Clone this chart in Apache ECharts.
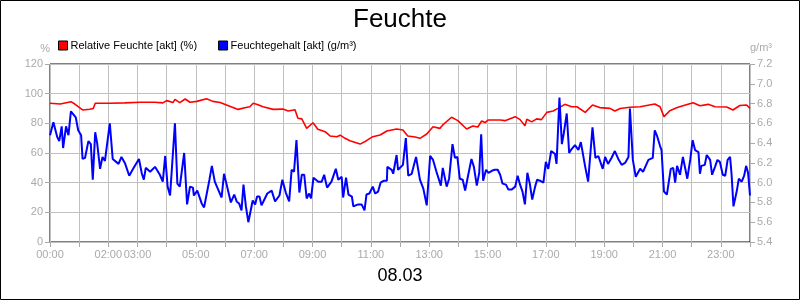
<!DOCTYPE html>
<html>
<head>
<meta charset="utf-8">
<script src="https://cdn.jsdelivr.net/npm/echarts@6/dist/echarts.min.js"></script>
<style>
  html, body { margin: 0; padding: 0; background: #fff; }
  #chart { width: 800px; height: 300px; }
</style>
</head>
<body>
<div id="chart"></div>
<script>
// x axis: minutes since midnight, labels shown only at these hours
var shownHours = [0, 2, 3, 5, 7, 9, 11, 13, 15, 17, 19, 21, 23];

// Relative Feuchte [akt] (%)
var rhTime = [0, 21, 43, 51, 67, 82, 89, 93, 123, 154, 185, 216, 232, 240, 253, 257, 267, 278, 288, 302,
  322, 335, 350, 363, 387, 401, 411, 418, 428, 438, 459, 479, 490, 504, 510, 518, 528, 541, 551, 566,
  576, 590, 597, 607, 617, 638, 651, 664, 679, 693, 713, 726, 736, 751, 761, 775, 788, 802, 808, 826,
  839, 857, 870, 880, 888, 895, 901, 926, 936, 957, 967, 977, 981, 991, 1001, 1011, 1022, 1035, 1045, 1059,
  1073, 1084, 1101, 1116, 1131, 1152, 1162, 1173, 1193, 1214, 1244, 1255, 1263, 1275, 1289, 1302, 1323, 1337, 1354, 1368,
  1392, 1405, 1419, 1433, 1440];
var rhValue = [93.5, 93, 94.6, 93, 89, 89.5, 90, 93.5, 93.5, 93.8, 94.2, 94.2, 93.8, 95.3, 94, 96.2, 94, 96.4, 94.2, 94.8,
  96.6, 94.8, 94, 92.4, 89.4, 90.5, 91.2, 93.5, 92.5, 91.2, 89.4, 89.6, 88.3, 89.2, 83.4, 83, 76.6, 80.4, 76, 74.4,
  71.5, 71, 72, 69.9, 68.3, 66, 68.3, 71, 72.1, 74.8, 76.2, 75.5, 71.5, 70.8, 69.9, 72.8, 77.7, 76.6, 78.9, 84.1,
  81.8, 76.2, 78.2, 77.5, 81.6, 80.5, 82.2, 82.2, 81.8, 84.5, 82.5, 78.4, 82.7, 81, 83, 82.5, 87.4, 88.3, 90.1, 92.8,
  91.2, 91.2, 87.4, 92.4, 90.6, 90.1, 88.3, 90, 90.8, 91.2, 93, 91.2, 84.5, 88.5, 90.5, 91.9, 93.9, 91.9, 92.8, 91.2,
  91, 89, 92, 92.4, 90.1];

// Feuchtegehalt [akt] (g/m³)
var ahTime = [0, 2, 7, 10, 15, 19, 24, 27, 33, 38, 43, 48, 53, 58, 64, 67, 72, 79, 84, 88,
  93, 97, 103, 108, 113, 123, 129, 141, 147, 154, 163, 171, 183, 189, 193, 197, 206, 216, 226, 232,
  237, 242, 247, 257, 262, 267, 276, 282, 288, 294, 296, 303, 312, 317, 328, 333, 339, 346, 353, 358,
  363, 372, 379, 384, 389, 394, 398, 403, 408, 417, 422, 426, 431, 435, 440, 447, 456, 463, 472, 478,
  485, 492, 497, 502, 507, 513, 518, 523, 528, 533, 537, 542, 552, 559, 564, 570, 579, 588, 593, 600,
  603, 609, 614, 621, 624, 634, 641, 647, 651, 657, 664, 669, 675, 680, 687, 693, 694, 703, 706, 713,
  716, 726, 732, 737, 744, 753, 761, 768, 775, 778, 782, 788, 795, 799, 804, 808, 811, 816, 821, 828,
  833, 838, 843, 849, 854, 860, 867, 872, 878, 883, 887, 891, 897, 902, 909, 915, 921, 926, 931, 938,
  943, 950, 957, 962, 967, 972, 977, 982, 987, 992, 998, 1002, 1008, 1015, 1020, 1025, 1031, 1039, 1042, 1048,
  1053, 1057, 1063, 1068, 1073, 1080, 1087, 1092, 1101, 1107, 1116, 1122, 1128, 1137, 1142, 1148, 1155, 1162, 1169, 1176,
  1183, 1190, 1193, 1199, 1205, 1214, 1220, 1231, 1234, 1240, 1244, 1249, 1255, 1258, 1263, 1269, 1272, 1277, 1282, 1286,
  1290, 1296, 1302, 1306, 1311, 1317, 1322, 1327, 1334, 1337, 1340, 1347, 1351, 1358, 1362, 1368, 1373, 1378, 1384, 1389,
  1394, 1399, 1402, 1406, 1413, 1417, 1423, 1428, 1432, 1436, 1440];
var ahValue = [6.48, 6.48, 6.61, 6.60, 6.46, 6.42, 6.57, 6.35, 6.57, 6.48, 6.72, 6.69, 6.66, 6.53, 6.48, 6.24, 6.25, 6.42, 6.39, 6.03,
  6.51, 6.40, 6.14, 6.26, 6.22, 6.60, 6.24, 6.19, 6.26, 6.20, 6.07, 6.14, 6.24, 6.09, 6.03, 6.15, 6.11, 6.16, 6.08, 6.01,
  6.27, 5.96, 5.87, 6.60, 5.99, 5.96, 6.30, 5.78, 5.96, 5.95, 5.87, 5.92, 5.79, 5.75, 6.03, 6.17, 6.01, 5.93, 5.85, 6.09,
  5.99, 5.80, 5.88, 5.81, 5.79, 5.72, 5.98, 5.76, 5.60, 5.82, 5.78, 5.86, 5.86, 5.77, 5.82, 5.89, 5.92, 5.81, 5.87, 6.03,
  5.90, 5.81, 6.13, 6.11, 6.43, 5.90, 6.08, 6.08, 5.84, 5.89, 5.84, 6.05, 6.01, 6.01, 6.08, 5.95, 6.01, 6.14, 6.03, 6.06,
  5.85, 6.05, 5.88, 5.86, 5.76, 5.78, 5.78, 5.72, 5.88, 5.89, 5.96, 5.89, 5.91, 6.00, 6.02, 6.02, 6.16, 6.13, 6.09, 6.28,
  6.13, 6.18, 6.45, 6.07, 6.09, 6.26, 6.03, 5.94, 5.77, 5.76, 6.27, 6.23, 6.11, 6.10, 5.97, 6.15, 6.14, 5.96, 6.04, 6.39,
  6.25, 6.26, 6.04, 6.03, 5.92, 6.07, 6.24, 6.16, 5.97, 6.10, 6.49, 6.02, 6.13, 6.10, 6.12, 6.13, 6.13, 6.08, 5.99, 5.98,
  5.93, 5.93, 5.96, 6.07, 5.98, 5.91, 5.78, 6.10, 5.99, 5.83, 5.96, 6.03, 6.02, 6.00, 6.21, 6.14, 6.32, 6.29, 6.19, 6.86,
  6.39, 6.50, 6.70, 6.30, 6.34, 6.38, 6.33, 6.41, 6.16, 6.01, 6.56, 6.25, 6.27, 6.14, 6.26, 6.19, 6.25, 6.32, 6.24, 6.18,
  6.20, 6.26, 6.75, 6.23, 6.06, 6.14, 6.11, 6.23, 6.21, 6.25, 6.53, 6.47, 6.37, 6.33, 5.91, 5.88, 5.89, 6.14, 6.15, 6.00,
  6.17, 6.08, 6.26, 6.25, 6.04, 6.23, 6.43, 6.33, 6.31, 6.09, 6.17, 6.18, 6.28, 6.23, 6.08, 6.16, 6.23, 6.21, 6.08, 6.07,
  6.23, 6.26, 6.09, 5.76, 5.92, 6.04, 6.01, 6.07, 6.17, 6.10, 5.87];

function pairs(t, v) {
  var out = [];
  for (var i = 0; i < t.length; i++) out.push([t[i], v[i]]);
  return out;
}

function pad(n) { return n < 10 ? "0" + n : "" + n; }

var grey = "#aaaaaa";
var gridGrey = "#c0c0c0";
var font = "Liberation Sans, Arial, sans-serif";

var chart = echarts.init(document.getElementById("chart"));
var option = {
  animation: false,
  textStyle: { fontFamily: font },
  title: [
    { text: "Feuchte", left: "center", top: 2,
      textStyle: { fontSize: 26, fontWeight: "normal", color: "#000", fontFamily: font } },
    { text: "08.03", left: "center", top: 262,
      textStyle: { fontSize: 18, fontWeight: "normal", color: "#000", fontFamily: font } }
  ],
  graphic: [
    { type: "rect", shape: { x: 0.5, y: 0.5, width: 799, height: 299 },
      style: { fill: null, stroke: "#000", lineWidth: 1 }, silent: true }
  ],
  legend: {
    left: 53, top: 35,
    icon: "rect", itemWidth: 9, itemHeight: 9, itemGap: 21,
    textStyle: { fontSize: 11, color: "#000", fontFamily: font, padding: [0, 0, 0, -2] },
    data: [
      { name: "Relative Feuchte [akt] (%)", itemStyle: { borderColor: "#000", borderWidth: 1 } },
      { name: "Feuchtegehalt [akt] (g/m³)", itemStyle: { borderColor: "#000", borderWidth: 1 } }
    ]
  },
  grid: { left: 50, right: 50, top: 64, bottom: 58, show: true, borderColor: "#000", borderWidth: 1,
    backgroundColor: "transparent" },
  xAxis: {
    type: "value", min: 0, max: 1440, interval: 60,
    axisLine: { show: false },
    axisTick: { show: true, length: 5, lineStyle: { color: grey } },
    axisLabel: {
      color: grey, fontSize: 11, fontFamily: font, margin: 7,
      formatter: function (v) {
        var h = Math.round(v / 60);
        return shownHours.indexOf(h) >= 0 ? pad(h) + ":00" : "";
      }
    },
    splitLine: { show: true, lineStyle: { color: gridGrey, width: 1 } }
  },
  yAxis: [
    {
      type: "value", min: 0, max: 120, interval: 20,
      name: "%", nameGap: 10, nameTextStyle: { color: grey, fontSize: 11, align: "right" },
      axisLine: { show: false },
      axisTick: { show: true, length: 5, lineStyle: { color: grey } },
      axisLabel: { color: grey, fontSize: 11, fontFamily: font, margin: 7 },
      splitLine: { show: true, lineStyle: { color: gridGrey, width: 1 } }
    },
    {
      type: "value", min: 5.4, max: 7.2, interval: 0.2,
      name: "g/m³", nameGap: 11, nameTextStyle: { color: grey, fontSize: 11, align: "left" },
      axisLine: { show: false },
      axisTick: { show: true, length: 5, lineStyle: { color: grey } },
      axisLabel: { color: grey, fontSize: 11, fontFamily: font, margin: 7,
        formatter: function (v) { return v.toFixed(1); } },
      splitLine: { show: false }
    }
  ],
  series: [
    {
      name: "Relative Feuchte [akt] (%)", type: "line", yAxisIndex: 0,
      showSymbol: false, color: "#ff0000",
      lineStyle: { color: "#ff0000", width: 1.6 },
      data: pairs(rhTime, rhValue)
    },
    {
      name: "Feuchtegehalt [akt] (g/m³)", type: "line", yAxisIndex: 1,
      showSymbol: false, color: "#0000ff",
      lineStyle: { color: "#0000ff", width: 2 },
      data: pairs(ahTime, ahValue)
    }
  ]
};
chart.setOption(option);
</script>
</body>
</html>
